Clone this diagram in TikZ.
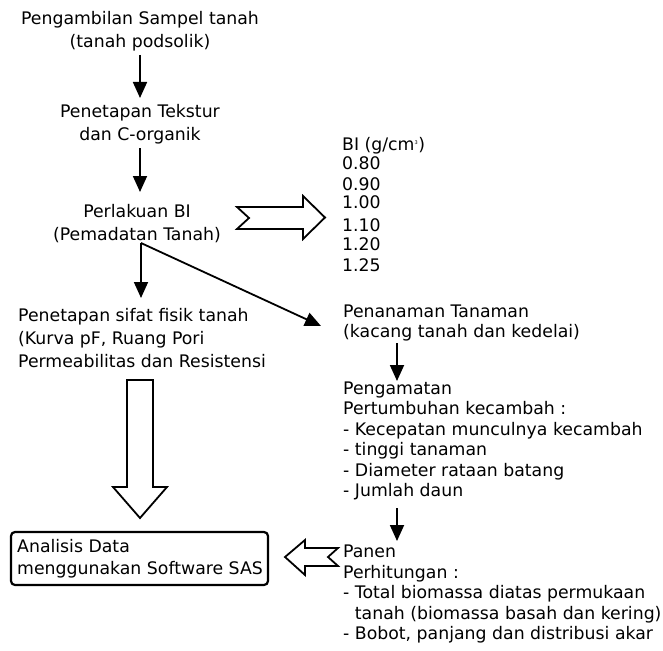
\documentclass[tikz,border=0pt]{standalone}
\usepackage{fontspec}
\setmainfont{DejaVu Sans}
\usetikzlibrary{arrows.meta,calc}
\begin{document}
\begin{tikzpicture}[x=1pt,y=-1pt,
  txt/.style={inner sep=0pt,font=\fontsize{17.3}{23}\selectfont},
  txtr/.style={inner sep=0pt,align=left,font=\fontsize{17.3}{20.5}\selectfont},
  num/.style={inner sep=0pt,anchor=west,font=\fontsize{17.3}{20}\selectfont},
  flow/.style={line width=1.8pt,-{Triangle[length=16pt,width=14pt]}},
  hollow/.style={line width=1.8pt,fill=white,line join=miter},
  box/.style={line width=2.2pt,rounded corners=4pt}]
\useasboundingbox (0,0) rectangle (663,650);

% left column
\node[txt,align=center] (n1) at (140,31.5) {Pengambilan Sampel tanah\\(tanah podsolik)};
\node[txt,align=center] (n2) at (140,124) {Penetapan Tekstur\\dan C-organik};
\node[txt,align=center] (n3) at (137,224) {Perlakuan BI\\(Pemadatan Tanah)};
\node[txt,align=left,anchor=west] (n4) at (18,338) {Penetapan sifat fisik tanah\\(Kurva pF, Ruang Pori\\Permeabilitas dan Resistensi};
\node[txt,align=left,anchor=west,font=\fontsize{17.3}{22}\selectfont] (n8) at (17,559) {Analisis Data\\menggunakan Software SAS};
\draw[box] (11,532) rectangle (268,585);

% BI list
\node[num] (bi) at (342,146) {BI (g/cm\textsuperscript{\tiny 3})};
\node[num] (v1) at (342,163) {0.80};
\node[num] (v2) at (342,184) {0.90};
\node[num] (v3) at (342,202) {1.00};
\node[num] (v4) at (342,225) {1.10};
\node[num] (v5) at (342,244) {1.20};
\node[num] (v6) at (342,265) {1.25};

% right column
\node[txtr,anchor=west] (n5) at (343,323) {Penanaman Tanaman\\(kacang tanah dan kedelai)};
\node[txtr,anchor=west] (n6) at (343,441) {Pengamatan\\Pertumbuhan kecambah :\\- Kecepatan munculnya kecambah\\- tinggi tanaman\\- Diameter rataan batang\\- Jumlah daun};
\node[txtr,anchor=west] (n7) at (343,594) {Panen\\Perhitungan :\\- Total biomassa diatas permukaan\\\phantom{- }tanah (biomassa basah dan kering)\\- Bobot, panjang dan distribusi akar};

% thin arrows
\coordinate (a1s) at (140,55);  \coordinate (a1e) at (140,98);
\coordinate (a2s) at (140,148); \coordinate (a2e) at (140,192);
\coordinate (split) at (141,243);
\coordinate (a3e) at (141,298);
\coordinate (a4e) at (321,326);
\coordinate (a5s) at (397,343); \coordinate (a5e) at (397,381);
\coordinate (a6s) at (397,508); \coordinate (a6e) at (397,541);
\draw[flow] (a1s) -- (a1e);
\draw[flow] (a2s) -- (a2e);
\draw[flow] (split) -- (a3e);
\draw[flow] (split) -- (a4e);
\draw[flow] (a5s) -- (a5e);
\draw[flow] (a6s) -- (a6e);

% hollow arrow right (to BI list)
\draw[hollow] (237,207) -- (303,207) -- (303,196) -- (325,217.5) -- (303,239) -- (303,229) -- (237,229) -- (249,218) -- cycle;
% hollow arrow down (to analysis box)
\draw[hollow] (127,380) -- (153,380) -- (153,487) -- (167,487) -- (140,518) -- (113,487) -- (127,487) -- cycle;
% hollow arrow left (from Panen to box)
\draw[hollow] (338,548) -- (305,548) -- (305,540) -- (285,557) -- (305,575) -- (305,566) -- (338,566) -- (328,557) -- cycle;
\end{tikzpicture}
\end{document}
